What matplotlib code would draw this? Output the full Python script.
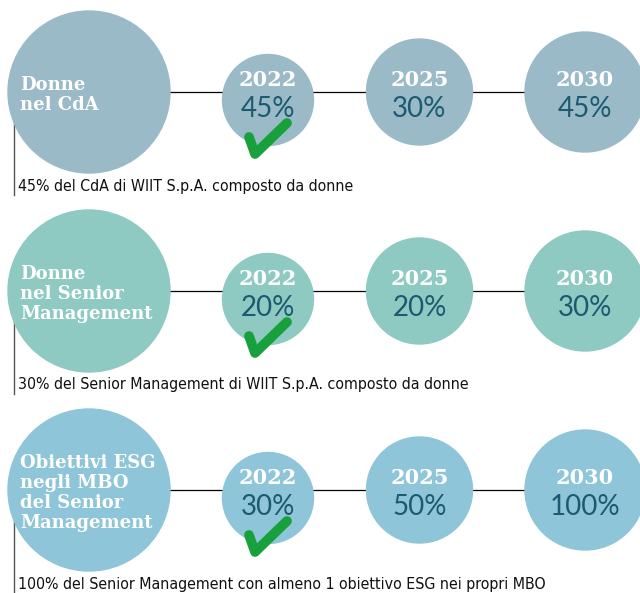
import matplotlib.pyplot as plt
from matplotlib.patches import Circle

# data
years = ['2022', '2025', '2030']
row_titles = ['Donne\nnel CdA',
              'Donne\nnel Senior\nManagement',
              'Obiettivi ESG\nnegli MBO\ndel Senior\nManagement']
cda_pct = [45, 30, 45]
senior_pct = [20, 20, 30]
esg_mbo_pct = [30, 50, 100]
captions = ['45% del CdA di WIIT S.p.A. composto da donne',
            '30% del Senior Management di WIIT S.p.A. composto da donne',
            '100% del Senior Management con almeno 1 obiettivo ESG nei propri MBO']
reached_2022 = [True, True, True]

# layout / style
row_colors = ['#9bbac7', '#8ecac1', '#8fc5d9']
pct_color = '#1b5a70'
row_y = [92, 291, 490]
big_x, big_r = 89, 81
col_x = [268, 419.5, 585]
col_r = [45.5, 53, 60]
col_dy = [8, 0, 0]
check_shape = ([-19, -13, 19], [45, 62, 31])

fig = plt.figure(figsize=(6.4, 5.93), dpi=100)
ax = fig.add_axes([0, 0, 1, 1])
ax.set_xlim(0, 640)
ax.set_ylim(593, 0)
ax.axis('off')

rows = [cda_pct, senior_pct, esg_mbo_pct]
for i, vals in enumerate(rows):
    y = row_y[i]
    c = row_colors[i]
    ax.plot([big_x, col_x[-1]], [y, y], color='black', lw=0.9, zorder=1)
    ax.add_patch(Circle((big_x, y), big_r, color=c, zorder=2))
    ax.text(20, y + 3, row_titles[i], ha='left', va='center', color='white',
            fontsize=13, fontweight='bold', family='DejaVu Serif',
            linespacing=1.15, zorder=3)
    for j, (yr, v) in enumerate(zip(years, vals)):
        cx = col_x[j]
        ax.add_patch(Circle((cx, y + col_dy[j]), col_r[j], color=c, zorder=2))
        ax.text(cx, y - 12, yr, ha='center', va='center', color='white',
                fontsize=15, fontweight='bold', family='DejaVu Serif', zorder=3)
        ax.text(cx, y + 17, f'{v}%', ha='center', va='center', color=pct_color,
                fontsize=20, fontweight='normal', family=['Lato', 'DejaVu Sans'],
                zorder=3)
    if reached_2022[i]:
        ax.plot([col_x[0] + dx for dx in check_shape[0]],
                [y + dy for dy in check_shape[1]],
                color='#17a03c', lw=7, solid_capstyle='round',
                solid_joinstyle='round', zorder=4)
    ax.plot([14, 14], [y + 30, y + 103], color='#555555', lw=1, zorder=1)
    ax.text(18, y + 94, captions[i], ha='left', va='center', color='#111111',
            fontsize=11.4, family='DejaVu Sans', fontstretch='condensed')

fig.savefig('out.png', dpi=100)
